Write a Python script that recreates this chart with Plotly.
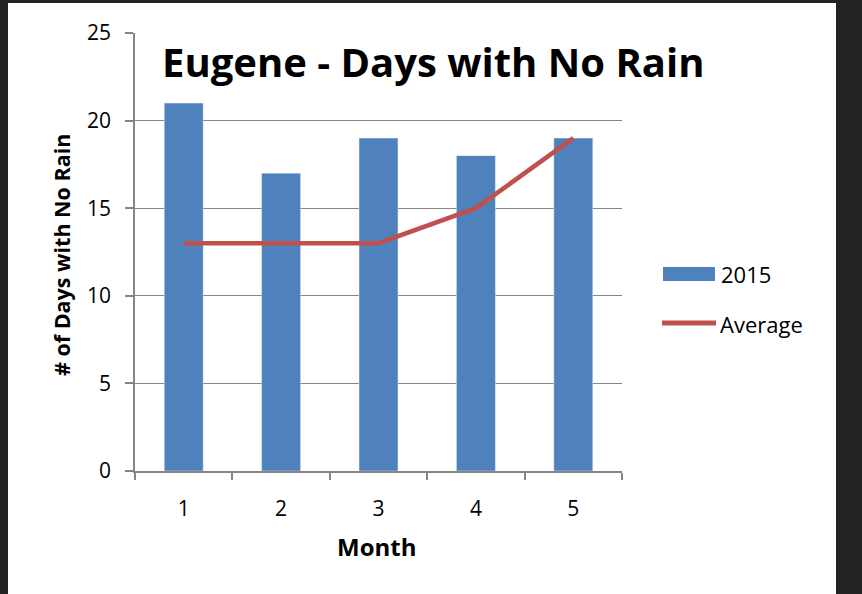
import plotly.graph_objects as go

months = [1, 2, 3, 4, 5]
tick_labels = ["1", "2", "3", "4", "5"]
days_2015 = [21, 17, 19, 18, 19]
average = [13, 13, 13, 15, 19]

FONT = "Open Sans"
L, R, T, B = 135, 240, 33, 123
W, H = 862, 594
PW, PH = W - L - R, H - T - B


def px(x):
    return (x - L) / PW


def py(y):
    return (H - B - y) / PH


fig = go.Figure()
fig.add_trace(go.Bar(x=months, y=days_2015, name="2015", marker_color="#4F81BD",
                     width=0.4, showlegend=False))
fig.add_trace(go.Scatter(x=months, y=average, name="Average", mode="lines",
                         line=dict(color="#C0504D", width=4.5), showlegend=False))

shapes = [
    dict(type="rect", xref="paper", yref="paper", x0=px(8), x1=px(836), y0=py(600), y1=py(3),
         fillcolor="white", line_width=0, layer="below"),
    dict(type="rect", xref="paper", yref="paper", x0=px(663), x1=px(715), y0=py(281), y1=py(267),
         fillcolor="#4F81BD", line_width=0),
    dict(type="line", xref="paper", yref="paper", x0=px(662), x1=px(716), y0=py(323), y1=py(323),
         line=dict(color="#C0504D", width=5)),
]

annotations = [
    dict(text="<b>Eugene - Days with No Rain</b>", xref="paper", yref="paper",
         x=px(433), y=py(62), xanchor="center", yanchor="middle", showarrow=False,
         font=dict(family=FONT, size=40, color="black")),
    dict(text="<b># of Days with No Rain</b>", xref="paper", yref="paper",
         x=px(61), y=py(255), xanchor="center", yanchor="middle", textangle=-90, showarrow=False,
         font=dict(family=FONT, size=21.5, color="black")),
    dict(text="<b>Month</b>", xref="paper", yref="paper",
         x=px(376), y=py(546), xanchor="center", yanchor="middle", showarrow=False,
         font=dict(family=FONT, size=24, color="black")),
    dict(text="2015", xref="paper", yref="paper", x=px(719), y=py(274), xanchor="left",
         yanchor="middle", showarrow=False, font=dict(family=FONT, size=22, color="black")),
    dict(text="Average", xref="paper", yref="paper", x=px(718), y=py(324), xanchor="left",
         yanchor="middle", showarrow=False, font=dict(family=FONT, size=22, color="black")),
]

fig.update_layout(
    width=W, height=H,
    margin=dict(l=L, r=R, t=T, b=B, autoexpand=False),
    paper_bgcolor="#222222", plot_bgcolor="white",
    font=dict(family=FONT, size=21, color="black"),
    shapes=shapes, annotations=annotations,
    xaxis=dict(range=[0.5, 5.5], tickmode="array", tickvals=months, ticktext=tick_labels,
               ticks="", showline=True, linecolor="#868686", linewidth=1.5, showgrid=False,
               zeroline=False, ticklabelstandoff=18,
               minor=dict(tickmode="linear", tick0=0.5, dtick=1, ticks="outside", ticklen=7,
                          tickcolor="#868686", tickwidth=1.5, showgrid=False)),
    yaxis=dict(range=[0, 25], tickmode="linear", tick0=0, dtick=5, ticks="outside", ticklen=8,
               tickcolor="#868686", tickwidth=1.5, showline=True, linecolor="#868686",
               linewidth=1.5, showgrid=True, gridcolor="#868686", gridwidth=1.2, zeroline=False,
               ticklabelstandoff=10),
)

fig.write_html("out.html", config={"displayModeBar": False},
               post_script="document.body.style.margin='0';document.body.style.background='#222222';")
